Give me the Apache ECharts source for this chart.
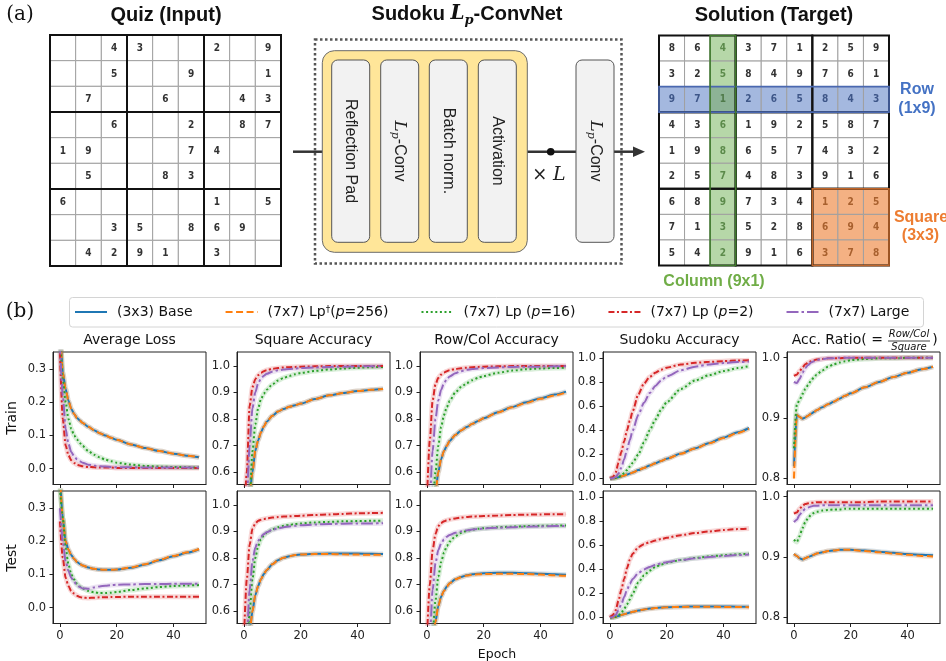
<!DOCTYPE html>
<html><head><meta charset="utf-8">
<script src="https://cdn.jsdelivr.net/npm/echarts@6/dist/echarts.min.js"></script>
<style>html,body{margin:0;padding:0;background:#fff}#c{width:946px;height:661px}</style>
</head><body><div id="c"></div><script>
// ---------------- data ----------------
const quiz = [
[0,0,4,3,0,0,2,0,9],
[0,0,5,0,0,9,0,0,1],
[0,7,0,0,6,0,0,4,3],
[0,0,6,0,0,2,0,8,7],
[1,9,0,0,0,7,4,0,0],
[0,5,0,0,8,3,0,0,0],
[6,0,0,0,0,0,1,0,5],
[0,0,3,5,0,8,6,9,0],
[0,4,2,9,1,0,3,0,0]];
const solution = [
[8,6,4,3,7,1,2,5,9],
[3,2,5,8,4,9,7,6,1],
[9,7,1,2,6,5,8,4,3],
[4,3,6,1,9,2,5,8,7],
[1,9,8,6,5,7,4,3,2],
[2,5,7,4,8,3,9,1,6],
[6,8,9,7,3,4,1,2,5],
[7,1,3,5,2,8,6,9,4],
[5,4,2,9,1,6,3,7,8]];
const highlightRow = 2, highlightCol = 2, highlightBlock = [2,2];

const seriesNames = ['(3x3) Base','(7x7) Lp†(p=256)','(7x7) Lp (p=16)','(7x7) Lp (p=2)','(7x7) Large'];
const panelTitles = ['Average Loss','Square Accuracy','Row/Col Accuracy','Sudoku Accuracy',''];
const rowLabels = ['Train','Test'];
const epochs = [0,1,2,3,4,5,6,7,8,10,12,14,16,18,20,25,30,35,40,45,49];
const xTicks = [0,20,40];
const lossTicks = [0,0.1,0.2,0.3];
const accTicks = [0.6,0.7,0.8,0.9,1.0];
const sudokuTicks = [0,0.2,0.4,0.6,0.8,1.0];
const ratioTicks = [0.8,0.9,1.0];

const trainLossBase  = [0.45,0.29,0.24,0.205,0.18,0.165,0.153,0.145,0.138,0.126,0.116,0.107,0.100,0.093,0.087,0.073,0.062,0.053,0.045,0.039,0.034];
const trainLossLp256 = [0.45,0.29,0.24,0.205,0.18,0.165,0.153,0.145,0.138,0.126,0.116,0.107,0.100,0.093,0.087,0.073,0.062,0.053,0.045,0.039,0.034];
const trainLossLp16  = [0.40,0.27,0.20,0.15,0.12,0.10,0.088,0.077,0.068,0.053,0.042,0.034,0.027,0.022,0.018,0.012,0.008,0.006,0.005,0.004,0.003];
const trainLossLp2   = [0.35,0.15,0.07,0.04,0.025,0.017,0.012,0.009,0.007,0.005,0.004,0.003,0.003,0.003,0.002,0.002,0.002,0.002,0.002,0.002,0.002];
const trainLossLarge = [0.38,0.22,0.12,0.075,0.05,0.037,0.028,0.022,0.018,0.012,0.009,0.007,0.006,0.005,0.004,0.004,0.003,0.003,0.003,0.003,0.003];

const testLossBase  = [0.40,0.27,0.20,0.175,0.158,0.147,0.138,0.132,0.127,0.121,0.117,0.115,0.114,0.114,0.115,0.120,0.130,0.143,0.155,0.166,0.176];
const testLossLp256 = [0.40,0.27,0.20,0.175,0.158,0.147,0.138,0.132,0.127,0.121,0.117,0.115,0.114,0.114,0.115,0.121,0.131,0.144,0.156,0.167,0.177];
const testLossLp16  = [0.36,0.27,0.18,0.13,0.10,0.085,0.072,0.064,0.058,0.050,0.046,0.044,0.044,0.045,0.047,0.053,0.058,0.062,0.065,0.067,0.068];
const testLossLp2   = [0.26,0.15,0.09,0.065,0.05,0.042,0.036,0.032,0.030,0.029,0.030,0.031,0.031,0.032,0.032,0.033,0.033,0.033,0.033,0.033,0.033];
const testLossLarge = [0.30,0.20,0.14,0.11,0.09,0.078,0.068,0.062,0.058,0.057,0.061,0.064,0.066,0.068,0.069,0.070,0.071,0.071,0.072,0.072,0.072];

const trainSqBase  = [0.38,0.44,0.52,0.60,0.68,0.72,0.75,0.772,0.79,0.812,0.828,0.838,0.846,0.852,0.858,0.875,0.889,0.898,0.905,0.910,0.914];
const trainSqLp256 = [0.38,0.44,0.52,0.60,0.68,0.72,0.75,0.772,0.79,0.812,0.828,0.838,0.846,0.852,0.858,0.875,0.889,0.898,0.905,0.910,0.913];
const trainSqLp16  = [0.35,0.42,0.50,0.68,0.78,0.84,0.875,0.895,0.91,0.93,0.945,0.955,0.962,0.968,0.973,0.981,0.986,0.990,0.993,0.995,0.996];
const trainSqLp2   = [0.40,0.60,0.85,0.92,0.95,0.965,0.974,0.98,0.984,0.989,0.992,0.994,0.995,0.996,0.997,0.998,0.999,0.999,0.999,0.999,0.999];
const trainSqLarge = [0.35,0.50,0.70,0.84,0.90,0.935,0.952,0.963,0.97,0.978,0.983,0.986,0.988,0.990,0.992,0.994,0.996,0.997,0.998,0.998,0.998];

const testSqBase  = [0.40,0.45,0.52,0.60,0.66,0.695,0.72,0.74,0.755,0.777,0.792,0.801,0.807,0.811,0.813,0.816,0.817,0.817,0.817,0.816,0.815];
const testSqLp256 = [0.40,0.45,0.52,0.60,0.66,0.695,0.72,0.74,0.755,0.777,0.792,0.801,0.807,0.811,0.813,0.815,0.815,0.814,0.813,0.812,0.812];
const testSqLp16  = [0.35,0.45,0.60,0.72,0.80,0.845,0.87,0.885,0.895,0.908,0.916,0.921,0.925,0.928,0.930,0.934,0.936,0.938,0.939,0.940,0.940];
const testSqLp2   = [0.50,0.72,0.85,0.91,0.93,0.94,0.944,0.947,0.949,0.952,0.954,0.956,0.957,0.958,0.959,0.962,0.964,0.966,0.968,0.969,0.970];
const testSqLarge = [0.35,0.50,0.68,0.79,0.84,0.865,0.88,0.89,0.897,0.906,0.912,0.916,0.919,0.921,0.923,0.926,0.928,0.929,0.930,0.930,0.931];

const trainRcBase  = [0.35,0.40,0.45,0.52,0.60,0.65,0.68,0.70,0.718,0.74,0.757,0.77,0.782,0.793,0.803,0.826,0.845,0.863,0.878,0.892,0.903];
const trainRcLp256 = [0.35,0.40,0.45,0.52,0.60,0.65,0.68,0.70,0.718,0.74,0.757,0.77,0.782,0.793,0.803,0.825,0.844,0.861,0.876,0.889,0.900];
const trainRcLp16  = [0.30,0.38,0.48,0.60,0.70,0.77,0.815,0.845,0.868,0.90,0.92,0.935,0.946,0.955,0.962,0.974,0.982,0.987,0.990,0.992,0.993];
const trainRcLp2   = [0.50,0.72,0.87,0.93,0.955,0.967,0.975,0.98,0.984,0.988,0.991,0.993,0.995,0.996,0.997,0.998,0.999,0.999,0.999,0.999,0.999];
const trainRcLarge = [0.35,0.50,0.68,0.80,0.87,0.91,0.935,0.95,0.96,0.972,0.98,0.985,0.988,0.990,0.992,0.994,0.996,0.997,0.997,0.998,0.998];

const testRcBase  = [0.35,0.40,0.48,0.56,0.62,0.655,0.677,0.693,0.705,0.72,0.729,0.735,0.739,0.741,0.743,0.745,0.745,0.743,0.741,0.739,0.737];
const testRcLp256 = [0.35,0.40,0.48,0.56,0.62,0.655,0.677,0.693,0.705,0.72,0.728,0.734,0.737,0.739,0.740,0.741,0.741,0.740,0.738,0.735,0.733];
const testRcLp16  = [0.30,0.40,0.52,0.64,0.73,0.785,0.82,0.845,0.862,0.882,0.894,0.902,0.907,0.910,0.912,0.916,0.918,0.920,0.921,0.922,0.922];
const testRcLp2   = [0.50,0.70,0.83,0.89,0.92,0.932,0.938,0.942,0.945,0.949,0.952,0.954,0.956,0.957,0.958,0.960,0.962,0.963,0.964,0.965,0.965];
const testRcLarge = [0.35,0.50,0.68,0.78,0.83,0.855,0.87,0.88,0.887,0.895,0.90,0.904,0.907,0.909,0.911,0.914,0.916,0.918,0.919,0.920,0.920];

const trainSdkBase  = [0,0.001,0.004,0.010,0.017,0.025,0.033,0.041,0.050,0.070,0.088,0.108,0.127,0.146,0.165,0.208,0.252,0.296,0.340,0.384,0.420];
const trainSdkLp256 = [0,0.001,0.004,0.010,0.017,0.025,0.033,0.041,0.050,0.070,0.088,0.107,0.126,0.145,0.164,0.206,0.250,0.293,0.336,0.379,0.415];
const trainSdkLp16  = [0,0.001,0.005,0.012,0.025,0.045,0.07,0.10,0.13,0.20,0.30,0.40,0.49,0.57,0.635,0.745,0.815,0.86,0.893,0.918,0.935];
const trainSdkLp2   = [0,0.01,0.05,0.13,0.22,0.31,0.40,0.48,0.56,0.70,0.79,0.845,0.88,0.905,0.922,0.948,0.962,0.970,0.976,0.981,0.984];
const trainSdkLarge = [0,0.003,0.012,0.04,0.09,0.16,0.24,0.32,0.40,0.53,0.63,0.71,0.77,0.815,0.85,0.90,0.93,0.948,0.96,0.968,0.973];

const testSdkBase  = [0,0.002,0.006,0.012,0.020,0.027,0.034,0.041,0.047,0.058,0.067,0.074,0.079,0.083,0.086,0.090,0.092,0.092,0.091,0.090,0.089];
const testSdkLp256 = [0,0.002,0.006,0.012,0.020,0.027,0.034,0.041,0.047,0.058,0.066,0.073,0.078,0.082,0.085,0.088,0.089,0.089,0.088,0.087,0.086];
const testSdkLp16  = [0,0.001,0.005,0.015,0.04,0.07,0.11,0.15,0.20,0.29,0.35,0.39,0.42,0.44,0.455,0.478,0.495,0.508,0.518,0.525,0.530];
const testSdkLp2   = [0,0.02,0.06,0.14,0.23,0.32,0.41,0.48,0.53,0.585,0.61,0.627,0.64,0.652,0.663,0.685,0.702,0.716,0.727,0.735,0.740];
const testSdkLarge = [0,0.005,0.02,0.06,0.11,0.17,0.23,0.28,0.32,0.37,0.40,0.42,0.437,0.45,0.46,0.478,0.492,0.503,0.512,0.519,0.524];

const trainRatioBase  = [0.82,0.905,0.902,0.899,0.901,0.904,0.907,0.910,0.913,0.918,0.923,0.927,0.932,0.937,0.941,0.951,0.960,0.968,0.975,0.981,0.985];
const trainRatioLp256 = [0.80,0.905,0.902,0.899,0.901,0.904,0.907,0.910,0.913,0.918,0.923,0.927,0.932,0.937,0.941,0.951,0.960,0.968,0.975,0.981,0.985];
const trainRatioLp16  = [0.85,0.922,0.93,0.94,0.948,0.955,0.962,0.967,0.972,0.979,0.985,0.989,0.992,0.994,0.996,0.998,0.999,0.999,1.0,1.0,1.0];
const trainRatioLp2   = [0.97,0.972,0.978,0.984,0.989,0.992,0.994,0.996,0.997,0.998,0.999,0.999,0.999,1.0,1.0,1.0,1.0,1.0,1.0,1.0,1.0];
const trainRatioLarge = [0.96,0.958,0.965,0.975,0.983,0.988,0.992,0.994,0.996,0.998,0.999,0.999,1.0,1.0,1.0,1.0,1.0,1.0,1.0,1.0,1.0];

const testRatioBase  = [0.905,0.902,0.898,0.896,0.898,0.900,0.902,0.904,0.906,0.908,0.910,0.911,0.912,0.912,0.912,0.911,0.909,0.907,0.905,0.904,0.903];
const testRatioLp256 = [0.905,0.902,0.898,0.896,0.898,0.900,0.902,0.904,0.906,0.908,0.910,0.911,0.912,0.912,0.912,0.910,0.908,0.906,0.904,0.902,0.901];
const testRatioLp16  = [0.929,0.925,0.935,0.948,0.958,0.965,0.970,0.973,0.975,0.977,0.978,0.979,0.979,0.980,0.980,0.980,0.980,0.980,0.980,0.980,0.980];
const testRatioLp2   = [0.972,0.974,0.980,0.985,0.988,0.989,0.990,0.990,0.991,0.991,0.991,0.991,0.991,0.991,0.991,0.991,0.992,0.992,0.992,0.992,0.992];
const testRatioLarge = [0.958,0.962,0.970,0.976,0.980,0.982,0.984,0.985,0.985,0.986,0.986,0.986,0.986,0.986,0.986,0.986,0.986,0.986,0.986,0.986,0.986];

// ---------------- build ----------------
const panelData = [
  [[trainLossBase,trainLossLp256,trainLossLp16,trainLossLp2,trainLossLarge],[testLossBase,testLossLp256,testLossLp16,testLossLp2,testLossLarge]],
  [[trainSqBase,trainSqLp256,trainSqLp16,trainSqLp2,trainSqLarge],[testSqBase,testSqLp256,testSqLp16,testSqLp2,testSqLarge]],
  [[trainRcBase,trainRcLp256,trainRcLp16,trainRcLp2,trainRcLarge],[testRcBase,testRcLp256,testRcLp16,testRcLp2,testRcLarge]],
  [[trainSdkBase,trainSdkLp256,trainSdkLp16,trainSdkLp2,trainSdkLarge],[testSdkBase,testSdkLp256,testSdkLp16,testSdkLp2,testSdkLarge]],
  [[trainRatioBase,trainRatioLp256,trainRatioLp16,trainRatioLp2,trainRatioLarge],[testRatioBase,testRatioLp256,testRatioLp16,testRatioLp2,testRatioLarge]]
];
const yRanges = [[-0.048,0.352,lossTicks],[0.554,1.052,accTicks],[0.554,1.052,accTicks],[-0.05,1.052,sudokuTicks],[0.79,1.0095,ratioTicks]];
const colors = ['#1f77b4','#ff7f0e','#2ca02c','#d62728','#9467bd'];
const dashes = ['solid',[7,3.5],[2,2.6],[6,2.5,2,2.5],[12,3,2.5,3]];
const panelLefts = [53,237,420,603,787];
const panelW = 153;
const rowTops = [352,491];
const rowH = 132.5;
const MPL = 'DejaVu Sans';

const grids=[], xAxes=[], yAxes=[], series=[];
for (let r=0;r<2;r++){
  for (let c=0;c<5;c++){
    const gi = grids.length;
    grids.push({left:panelLefts[c], top:rowTops[r], width:panelW, height:rowH, show:true, borderColor:'#222', borderWidth:1, backgroundColor:'transparent'});
    xAxes.push({type:'value', gridIndex:gi, min:-2.45, max:51.45, splitLine:{show:false},
      axisLine:{show:true, onZero:false, lineStyle:{color:'#222',width:1}},
      axisTick:{show:true, customValues:xTicks, length:3.5, lineStyle:{color:'#222'}},
      axisLabel:{show:r===1, customValues:xTicks, fontFamily:MPL, fontSize:11.5, color:'#222', margin:7}});
    const yr = yRanges[c];
    yAxes.push({type:'value', gridIndex:gi, min:yr[0], max:yr[1], splitLine:{show:false},
      axisLine:{show:true, onZero:false, lineStyle:{color:'#222',width:1}},
      axisTick:{show:true, customValues:yr[2], length:3.5, lineStyle:{color:'#222'}},
      axisLabel:{show:true, customValues:yr[2], fontFamily:MPL, fontSize:11.5, color:'#222', margin:7, formatter:v=>v.toFixed(1)}});
    const arrs = panelData[c][r];
    for (let s=0;s<5;s++){
      const d = epochs.map((e,i)=>[e, arrs[s][i]]);
      series.push({type:'line', xAxisIndex:gi, yAxisIndex:gi, data:d, symbol:'none', smooth:0.25, smoothMonotone:'x', silent:true,
        lineStyle:{color:colors[s], width:5, opacity:0.18}, z:1});
    }
    for (let s=0;s<5;s++){
      const d = epochs.map((e,i)=>[e, arrs[s][i]]);
      series.push({type:'line', name:seriesNames[s], xAxisIndex:gi, yAxisIndex:gi, data:d, symbol:'none', showSymbol:false, smooth:0.25, smoothMonotone:'x',
        color:colors[s], lineStyle:{color:colors[s], width:2, type:dashes[s]}, z:2+s});
    }
  }
}

// sudoku grids
function addSudoku(left, top, size){
  const gi = grids.length;
  grids.push({left:left, top:top, width:size, height:size, show:false});
  xAxes.push({type:'value', gridIndex:gi, min:0, max:9, show:false});
  yAxes.push({type:'value', gridIndex:gi, min:0, max:9, inverse:true, show:false});
  return gi;
}
function cellKind(r,c,isSol){
  if(!isSol) return 0;
  const inRow = r===highlightRow, inCol = c===highlightCol;
  const inBlk = Math.floor(r/3)===highlightBlock[0] && Math.floor(c/3)===highlightBlock[1];
  if(inRow && inCol) return 3;
  if(inCol) return 1;
  if(inRow) return 2;
  if(inBlk) return 4;
  return 0;
}
const cellFill = ['#ffffff','#b6d7a8','#a4b8df','#8db396','#f4b183'];
const cellText = ['#333333','#5b8a4a','#3e5688','#4f7a4a','#a8602e'];
function cellRender(params, api){
  const c=api.value(0), r=api.value(1), v=api.value(2), k=api.value(3);
  const p0=api.coord([c,r]), p1=api.coord([c+1,r+1]);
  return {type:'group', children:[
    {type:'rect', shape:{x:p0[0],y:p0[1],width:p1[0]-p0[0],height:p1[1]-p0[1]}, style:{fill:cellFill[k], stroke:'#a0a0a0', lineWidth:1}},
    {type:'text', style:{text: v? String(v):'', x:(p0[0]+p1[0])/2, y:(p0[1]+p1[1])/2+0.5, align:'center', verticalAlign:'middle', fill:cellText[k], font:'bold 10px "DejaVu Sans Condensed", "DejaVu Sans"'}}
  ]};
}
function blockRender(params, api){
  const bx=api.value(0), by=api.value(1);
  const p0=api.coord([bx*3,by*3]), p1=api.coord([bx*3+3,by*3+3]);
  return {type:'rect', shape:{x:p0[0],y:p0[1],width:p1[0]-p0[0],height:p1[1]-p0[1]}, style:{fill:'none', stroke:'#111', lineWidth:2}};
}
const hlStroke = ['','#3f7a2c','#4a68b0','','#c0662a'];
function hlRender(params, api){
  const x0=api.value(0), y0=api.value(1), x1=api.value(2), y1=api.value(3), k=api.value(4);
  const p0=api.coord([x0,y0]), p1=api.coord([x1,y1]);
  return {type:'rect', shape:{x:p0[0],y:p0[1],width:p1[0]-p0[0],height:p1[1]-p0[1]}, style:{fill:'none', stroke:hlStroke[k], lineWidth:1.6}};
}
const blocks=[]; for(let i=0;i<3;i++) for(let j=0;j<3;j++) blocks.push([i,j]);
[[quiz,50,35,231,false],[solution,659,35.5,230,true]].forEach(([board,l,t,s,isSol])=>{
  const gi = addSudoku(l,t,s);
  const data=[];
  for(let r=0;r<9;r++) for(let c=0;c<9;c++) data.push([c,r,board[r][c],cellKind(r,c,isSol)]);
  series.push({type:'custom', xAxisIndex:gi, yAxisIndex:gi, data:data, renderItem:cellRender, silent:true, z:2});
  series.push({type:'custom', xAxisIndex:gi, yAxisIndex:gi, data:blocks, renderItem:blockRender, silent:true, z:3});
  if(isSol){
    const hl = [
      [0,highlightRow,9,highlightRow+1,2],
      [highlightCol,0,highlightCol+1,9,1],
      [highlightBlock[1]*3,highlightBlock[0]*3,highlightBlock[1]*3+3,highlightBlock[0]*3+3,4]
    ];
    series.push({type:'custom', xAxisIndex:gi, yAxisIndex:gi, data:hl, renderItem:hlRender, silent:true, z:4});
  }
});

// ---------------- graphics ----------------
const SANS = 'Liberation Sans';
const G = [];
function txt(text,x,y,font,fill,opts){ G.push(Object.assign({type:'text', x:x, y:y, style:{text:text, font:font, fill:fill||'#000', align:'center', verticalAlign:'middle'}}, opts||{})); }
txt('(a)',20,15,'20px "DejaVu Serif"','#111');
txt('(b)',20,312,'20px "DejaVu Serif"','#111');
txt('Quiz (Input)',166,15,'bold 20px '+SANS,'#111');
txt('Solution (Target)',774,15,'bold 20px '+SANS,'#111');
G.push({type:'text', x:467, y:14, style:{text:'{a|Sudoku }{l|L}{s|p}{a|-ConvNet}', align:'center', verticalAlign:'middle', fill:'#111',
  rich:{a:{font:'bold 20px '+SANS, lineHeight:26}, l:{font:'italic bold 20px "DejaVu Serif"', lineHeight:26}, s:{font:'italic bold 13px "DejaVu Serif"', verticalAlign:'bottom', lineHeight:14}}}});
// arrows / lines
const LC = '#333';
G.push({type:'line', shape:{x1:293,y1:151.7,x2:323,y2:151.7}, style:{stroke:LC, lineWidth:2.5}, z:1});
G.push({type:'line', shape:{x1:527,y1:151.7,x2:577,y2:151.7}, style:{stroke:LC, lineWidth:2.5}, z:1});
G.push({type:'line', shape:{x1:613,y1:151.7,x2:636,y2:151.7}, style:{stroke:LC, lineWidth:2.5}, z:1});
G.push({type:'polygon', shape:{points:[[633,146.5],[645,151.7],[633,157]]}, style:{fill:LC}, z:1});
G.push({type:'circle', shape:{cx:550.7, cy:151.7, r:3.8}, style:{fill:'#111'}, z:3});
G.push({type:'rect', shape:{x:315,y:39.5,width:306.5,height:224}, style:{fill:'none', stroke:'#555', lineWidth:2.5, lineDash:[2.5,2.5]}, z:2});
G.push({type:'rect', shape:{x:322.3,y:50.7,width:205,height:201.6,r:12}, style:{fill:'#ffe699', stroke:'#6b6b6b', lineWidth:1}, z:2});
const boxXs = [331.7,380.7,429.3,478.3,576];
const boxLabels = ['{n|Reflection Pad}','{l|L}{s|p}{n|-Conv}','{n|Batch norm.}','{n|Activation}','{l|L}{s|p}{n|-Conv}'];
boxXs.forEach((bx,i)=>{
  G.push({type:'rect', shape:{x:bx,y:60,width:38,height:182.3,r:6}, style:{fill:'#f2f2f2', stroke:'#555', lineWidth:1}, z:3});
  G.push({type:'text', x:bx+19, y:151, rotation:-Math.PI/2, z:4, style:{text:boxLabels[i], align:'center', verticalAlign:'middle', fill:'#222',
    rich:{n:{font:'16px '+SANS, lineHeight:20}, l:{font:'italic 17px "DejaVu Serif"', lineHeight:20}, s:{font:'italic 11px "DejaVu Serif"', verticalAlign:'bottom', lineHeight:12}}}});
});
G.push({type:'text', x:549, y:175, z:4, style:{text:'{m|× }{l|L}', align:'center', verticalAlign:'middle', fill:'#222',
  rich:{m:{font:'18px "DejaVu Serif"'}, l:{font:'italic 19px "DejaVu Serif"'}}}});
txt('Row',917,90,'bold 16px '+SANS,'#4472c4');
txt('(1x9)',917,108.5,'bold 16px '+SANS,'#4472c4');
txt('Square',921,218,'bold 16px '+SANS,'#ed7d31');
txt('(3x3)',920.5,236,'bold 16px '+SANS,'#ed7d31');
txt('Column (9x1)',714,282,'bold 16px '+SANS,'#70ad47');
// legend frame
G.push({type:'rect', shape:{x:69.5,y:297.5,width:854,height:29.5,r:3}, style:{fill:'#fff', stroke:'#d4d4d4', lineWidth:1}, z:0});
// chart titles / labels
panelTitles.forEach((t,i)=>{ if(t) txt(t,panelLefts[i]+panelW/2,340,'14px '+MPL,'#111'); });
G.push({type:'text', x:791.7, y:340, style:{text:'Acc. Ratio( =', font:'14px '+MPL, fill:'#111', align:'left', verticalAlign:'middle'}});
txt('Row/Col',909,334.5,'italic 10px '+MPL,'#111');
txt('Square',909,347,'italic 10px '+MPL,'#111');
G.push({type:'line', shape:{x1:888,y1:341,x2:930,y2:341}, style:{stroke:'#111', lineWidth:0.8}});
txt(')',935,340,'14px '+MPL,'#111');
txt(rowLabels[0],12.5,418,'14px '+MPL,'#111',{rotation:Math.PI/2});
txt(rowLabels[1],12.5,558,'14px '+MPL,'#111',{rotation:Math.PI/2});
G.push({type:'text', x:497, y:648, style:{text:'Epoch', font:'12.5px '+MPL, fill:'#111', align:'center', verticalAlign:'top'}});

const legendRich = {
  '(3x3) Base':'(3x3) Base',
  '(7x7) Lp†(p=256)':'(7x7) Lp{sup|†}({i|p}=256)',
  '(7x7) Lp (p=16)':'(7x7) Lp ({i|p}=16)',
  '(7x7) Lp (p=2)':'(7x7) Lp ({i|p}=2)',
  '(7x7) Large':'(7x7) Large'
};

const chart = echarts.init(document.getElementById('c'), null, {renderer:'canvas'});
chart.setOption({
  animation:false,
  backgroundColor:'#fff',
  grid:grids, xAxis:xAxes, yAxis:yAxes, series:series,
  legend:{data:seriesNames, left:69, top:297, orient:'horizontal', itemWidth:32, itemHeight:14, itemGap:32,
    padding:[8,10,7,5], borderWidth:0, backgroundColor:'transparent', z:10,
    itemStyle:{color:'transparent', borderColor:'transparent', borderWidth:0, opacity:0},
    formatter:n=>legendRich[n],
    textStyle:{fontFamily:MPL, fontSize:14, color:'#111', padding:[0,0,0,5],
      rich:{sup:{fontFamily:MPL, fontSize:9, verticalAlign:'top', lineHeight:10}, i:{fontFamily:MPL, fontSize:14, fontStyle:'italic'}}}},
  graphic:{elements:G}
});
</script></body></html>
